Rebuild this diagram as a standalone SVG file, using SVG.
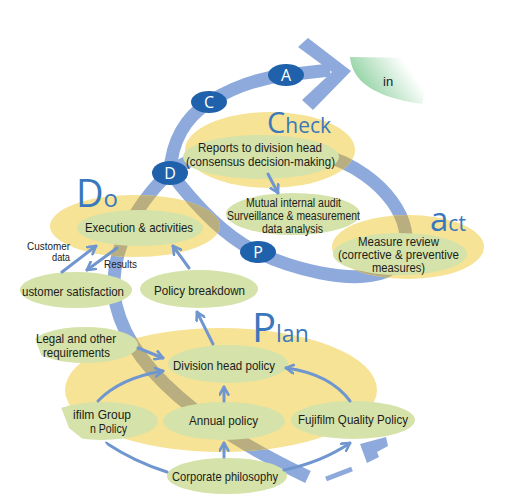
<svg xmlns="http://www.w3.org/2000/svg" width="512" height="503" viewBox="0 0 512 503">
<style>
.band{fill:none;stroke:#8eaadc;stroke-width:13}
.olive{fill:none;stroke:#b9ae80;stroke-width:13}
.yel{fill:#f6e395}
.grn{fill:#d5e2a9}
.t{font-family:"Liberation Sans Narrow","Liberation Sans",Arial,sans-serif;font-size:13px;fill:#1c1c1c}
.tm{font-family:"Liberation Sans Narrow","Liberation Sans",Arial,sans-serif;font-size:12px;fill:#1c1c1c}
.ts{font-family:"Liberation Sans Narrow","Liberation Sans",Arial,sans-serif;font-size:11.5px;fill:#1c1c1c}
.big{font-family:"Open Sans","Noto Sans",sans-serif;fill:#3a78bd}
.arr{fill:none;stroke:#6f96cf;stroke-width:3;stroke-linecap:round}
.circ{fill:#1f62ab}
.cl{font-family:"Open Sans","Noto Sans",sans-serif;font-size:16px;fill:#ffffff;text-anchor:middle}
</style>
<defs>
<marker id="ah" markerUnits="userSpaceOnUse" markerWidth="11" markerHeight="11" viewBox="0 0 10 10" refX="8" refY="5" orient="auto">
<path d="M1,1 L8,5 L1,9" fill="none" stroke="#6f96cf" stroke-width="2.4" stroke-linecap="round" stroke-linejoin="round"/>
</marker>
<clipPath id="yclip">
<ellipse cx="270" cy="150" rx="85" ry="38"/>
<ellipse cx="135" cy="226" rx="85" ry="31"/>
<ellipse cx="408" cy="247" rx="76" ry="32"/>
<ellipse cx="221" cy="390" rx="156" ry="62"/>
</clipPath>
<linearGradient id="gblob" gradientUnits="userSpaceOnUse" x1="362" y1="92" x2="405" y2="62">
<stop offset="0" stop-color="#8fd1a0"/>
<stop offset="1" stop-color="#ffffff"/>
</linearGradient>
</defs>
<rect width="512" height="503" fill="#ffffff"/>

<!-- improvement blob -->
<g id="improvement">
<path d="M350,57 C352,80 372,97 422,104 L432,58 Z" fill="url(#gblob)"/>
<text class="t" x="383" y="86" font-size="14">in</text>
</g>

<!-- main bands -->
<g id="bands">
<path id="spiral" class="band" d="M308,477 C240,445 135,385 116,305 C106,255 135,205 170,172 C172,140 185,118 209,102 C235,86 260,78 286,75 L330,70"/>
<path id="ring" class="band" d="M170,172 C215,140 310,135 365,175 C410,207 420,255 385,272 C350,285 290,268 257,252 C225,237 195,205 170,172 Z"/>
<polygon points="308,38 351,71 313,110 302,100 332,72 298,47" fill="#8eaadc"/>
<line x1="326" y1="479" x2="352" y2="469" stroke="#8eaadc" stroke-width="5"/>
<polygon points="360,444 386,437 388,446 377,452 379,457 367,463" fill="#8eaadc"/>
</g>

<!-- phase areas (yellow) -->
<g id="phase-check"><ellipse class="yel" cx="270" cy="150" rx="85" ry="38"/></g>
<g id="phase-do"><ellipse class="yel" cx="135" cy="226" rx="85" ry="31"/></g>
<g id="phase-act"><ellipse class="yel" cx="408" cy="247" rx="76" ry="32"/></g>
<g id="phase-plan"><ellipse class="yel" cx="221" cy="390" rx="156" ry="62"/></g>

<g id="bands-overlap" clip-path="url(#yclip)">
<path class="olive" d="M308,477 C240,445 135,385 116,305 C106,255 135,205 170,172 C172,140 185,118 209,102 C235,86 260,78 286,75 L330,70"/>
<path class="olive" d="M170,172 C215,140 310,135 365,175 C410,207 420,255 385,272 C350,285 290,268 257,252 C225,237 195,205 170,172 Z"/>
</g>

<!-- phase titles -->
<g id="title-check"><text class="big" x="267" y="133"><tspan font-size="29">C</tspan><tspan font-size="21">heck</tspan></text></g>
<g id="title-do"><text class="big" x="76" y="207"><tspan font-size="38">D</tspan><tspan font-size="24">o</tspan></text></g>
<g id="title-act"><text class="big" x="430" y="231"><tspan font-size="33">a</tspan><tspan font-size="21">ct</tspan></text></g>
<g id="title-plan"><text class="big" x="252" y="342"><tspan font-size="40">P</tspan><tspan font-size="23">lan</tspan></text></g>

<!-- nodes -->
<g id="reports">
<ellipse class="grn" cx="261" cy="157" rx="78" ry="22"/>
<text class="t" x="198" y="152" textLength="124" lengthAdjust="spacingAndGlyphs">Reports to division head</text>
<text class="t" x="186" y="166" textLength="149" lengthAdjust="spacingAndGlyphs">(consensus decision-making)</text>
</g>
<g id="audit">
<ellipse class="grn" cx="293" cy="214" rx="67" ry="21"/>
<text class="tm" x="246" y="207" textLength="95" lengthAdjust="spacingAndGlyphs">Mutual internal audit</text>
<text class="tm" x="227" y="220" textLength="133" lengthAdjust="spacingAndGlyphs">Surveillance &amp; measurement</text>
<text class="tm" x="262" y="233" textLength="61" lengthAdjust="spacingAndGlyphs">data analysis</text>
</g>
<g id="measure">
<ellipse class="grn" cx="400" cy="254" rx="67" ry="21"/>
<text class="tm" x="358" y="246" textLength="81" lengthAdjust="spacingAndGlyphs">Measure review</text>
<text class="tm" x="338" y="259" textLength="121" lengthAdjust="spacingAndGlyphs">(corrective &amp; preventive</text>
<text class="tm" x="372" y="272" textLength="53" lengthAdjust="spacingAndGlyphs">measures)</text>
</g>
<g id="execution">
<ellipse class="grn" cx="140" cy="228" rx="63" ry="18"/>
<text class="t" x="85" y="232" textLength="108" lengthAdjust="spacingAndGlyphs">Execution &amp; activities</text>
</g>
<g id="customer">
<ellipse class="grn" cx="76" cy="290" rx="56" ry="18"/>
<text class="t" x="22" y="296" textLength="102" lengthAdjust="spacingAndGlyphs">ustomer satisfaction</text>
</g>
<g id="breakdown">
<ellipse class="grn" cx="199" cy="289" rx="59" ry="19"/>
<text class="t" x="154" y="295" textLength="91" lengthAdjust="spacingAndGlyphs">Policy breakdown</text>
</g>
<g id="legal">
<ellipse class="grn" cx="85" cy="345" rx="53" ry="18"/>
<text class="t" x="36" y="343" textLength="80" lengthAdjust="spacingAndGlyphs">Legal and other</text>
<text class="t" x="43" y="357" textLength="67" lengthAdjust="spacingAndGlyphs">requirements</text>
</g>
<g id="division">
<ellipse class="grn" cx="228" cy="364" rx="60" ry="19"/>
<text class="t" x="173" y="370" textLength="102" lengthAdjust="spacingAndGlyphs">Division head policy</text>
</g>
<g id="group-policy">
<ellipse class="grn" cx="102" cy="421" rx="56" ry="19"/>
<text class="tm" x="73" y="419" textLength="58" lengthAdjust="spacingAndGlyphs">ifilm Group</text>
<text class="tm" x="90" y="433" textLength="37" lengthAdjust="spacingAndGlyphs">n Policy</text>
</g>
<g id="annual">
<ellipse class="grn" cx="224" cy="421" rx="61" ry="19"/>
<text class="t" x="189" y="425" textLength="69" lengthAdjust="spacingAndGlyphs">Annual policy</text>
</g>
<g id="quality">
<ellipse class="grn" cx="353" cy="420" rx="62" ry="19"/>
<text class="t" x="298" y="424" textLength="110" lengthAdjust="spacingAndGlyphs">Fujifilm Quality Policy</text>
</g>
<g id="corporate">
<ellipse class="grn" cx="227" cy="476" rx="60" ry="18"/>
<text class="t" x="172" y="481" textLength="106" lengthAdjust="spacingAndGlyphs">Corporate philosophy</text>
</g>

<!-- connectors -->
<g id="connectors">
<path class="arr" marker-end="url(#ah)" d="M268,174 L278,193"/>
<path class="arr" marker-end="url(#ah)" d="M62,272 L96,246"/>
<path class="arr" marker-end="url(#ah)" d="M117,248 L87,270"/>
<path class="arr" marker-end="url(#ah)" d="M189,268 L173,246"/>
<path class="arr" marker-end="url(#ah)" d="M213,344 L197,312"/>
<path class="arr" marker-end="url(#ah)" d="M138,348 L163,358"/>
<path class="arr" marker-end="url(#ah)" d="M98,401 Q120,378 163,371"/>
<path class="arr" marker-end="url(#ah)" d="M224,401 L224,387"/>
<path class="arr" marker-end="url(#ah)" d="M224,457 L224,443"/>
<path class="arr" marker-end="url(#ah)" d="M350,401 Q330,374 286,368"/>
<path class="arr" marker-end="url(#ah)" d="M284,470 Q322,462 350,443"/>
<path class="arr" d="M167,472 Q135,462 106,443"/>
</g>
<g id="edge-labels">
<text class="ts" x="27" y="250" textLength="43" lengthAdjust="spacingAndGlyphs">Customer</text>
<text class="ts" x="52" y="261" textLength="18" lengthAdjust="spacingAndGlyphs">data</text>
<text class="ts" x="104" y="268" textLength="33" lengthAdjust="spacingAndGlyphs">Results</text>
</g>

<!-- cycle markers -->
<g id="mark-A"><ellipse class="circ" cx="286" cy="75" rx="18" ry="11"/><text class="cl" x="286" y="81">A</text></g>
<g id="mark-C"><ellipse class="circ" cx="209" cy="102" rx="18" ry="11"/><text class="cl" x="209" y="108">C</text></g>
<g id="mark-D"><ellipse class="circ" cx="170" cy="173" rx="18" ry="12"/><text class="cl" x="170" y="179">D</text></g>
<g id="mark-P"><ellipse class="circ" cx="258" cy="252" rx="18" ry="11"/><text class="cl" x="258" y="258">P</text></g>

<!-- lower-left cut -->
<path d="M0,225 L17,290 L43,360 L69,428 L84,440 L104,441 L125,470 L148,503 L0,503 Z" fill="#ffffff"/>
</svg>
